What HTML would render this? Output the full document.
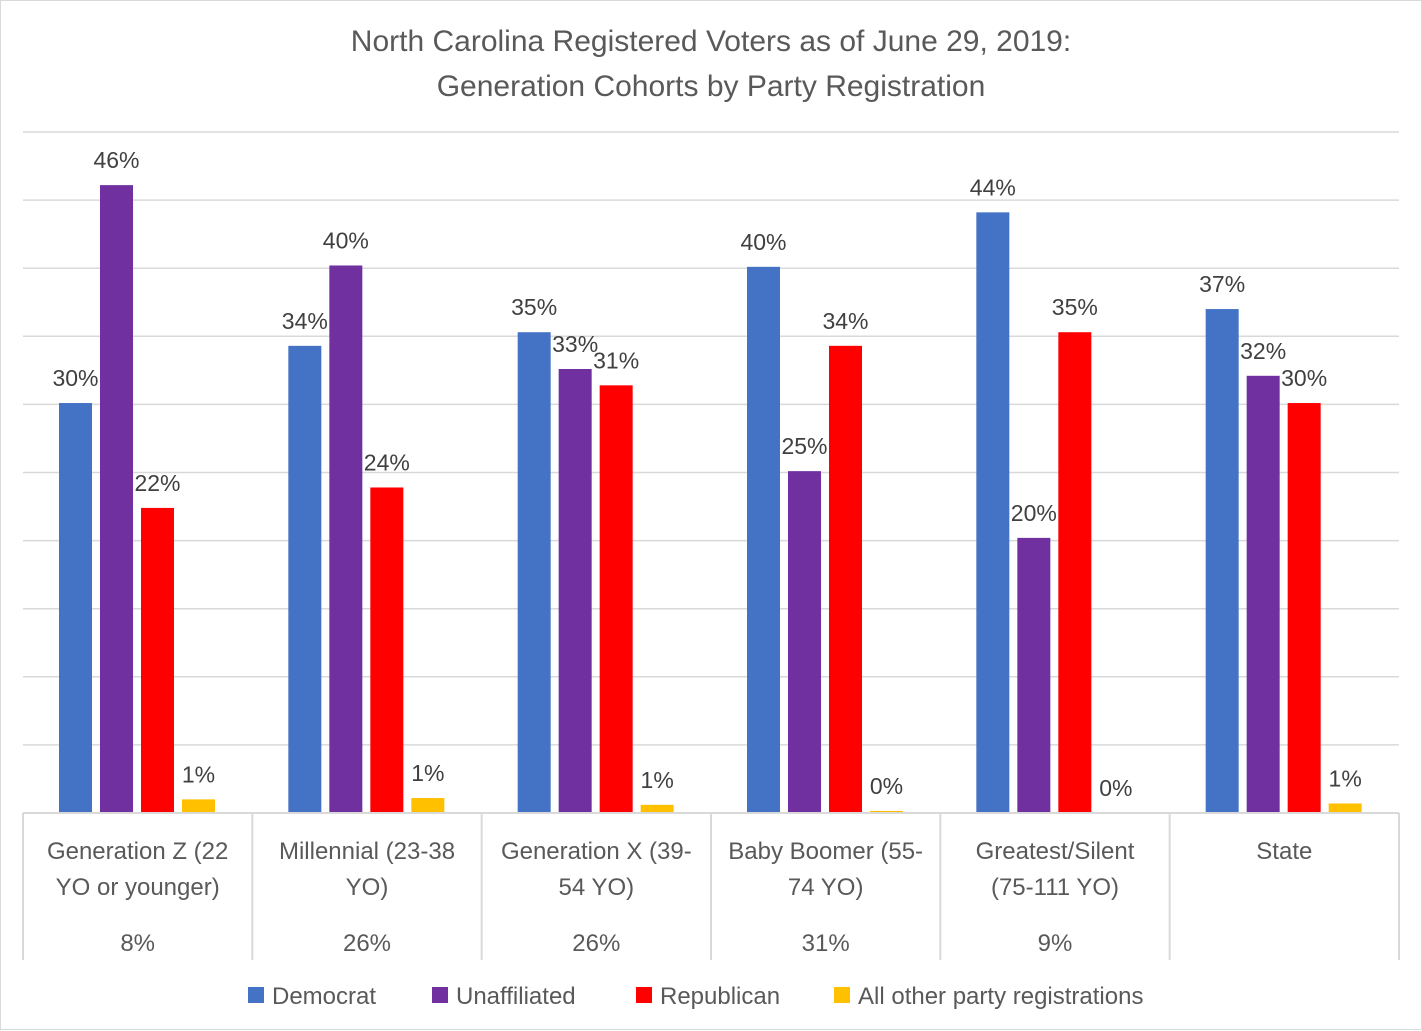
<!DOCTYPE html>
<html><head><meta charset="utf-8"><style>
body{margin:0;background:#fff}
svg{display:block;font-family:"Liberation Sans",sans-serif}
</style></head><body>
<svg id="c" width="1422" height="1031" viewBox="0 0 1422 1031">
<rect x="0.5" y="0.5" width="1421" height="1029" fill="#fff" stroke="#d9d9d9"/>
<text x="711" y="51" text-anchor="middle" font-size="30" fill="#595959">North Carolina Registered Voters as of June 29, 2019:</text>
<text x="711" y="96" text-anchor="middle" font-size="30" fill="#595959">Generation Cohorts by Party Registration</text>
<g id="grid"></g><g id="bars"></g><g id="axis"></g><g id="legend"></g>
</svg>
<script>
const categories1=["Generation Z (22","Millennial (23-38","Generation X (39-","Baby Boomer (55-","Greatest/Silent","State"];
const categories2=["YO or younger)","YO)","54 YO)","74 YO)","(75-111 YO)",""];
const shares=["8%","26%","26%","31%","9%",""];
const seriesNames=["Democrat","Unaffiliated","Republican","All other party registrations"];
const democrat=[30.1,34.3,35.3,40.1,44.1,37.0];
const unaffiliated=[46.1,40.2,32.6,25.1,20.2,32.1];
const republican=[22.4,23.9,31.4,34.3,35.3,30.1];
const other=[1.0,1.1,0.6,0.15,0,0.7];
const colors=["#4472c4","#7030a0","#ff0000","#ffc000"];
const NS="http://www.w3.org/2000/svg";
const x0=23,x1=1399,yb=813,yt=132,maxV=50;
const gw=(x1-x0)/categories1.length;
const y=v=>yb-(v/maxV)*(yb-yt);
function mk(p,t,a){const e=document.createElementNS(NS,t);for(const k in a)e.setAttribute(k,a[k]);p.appendChild(e);return e;}
const grid=document.getElementById('grid'),bars=document.getElementById('bars'),axis=document.getElementById('axis'),leg=document.getElementById('legend');
for(let v=5;v<=50;v+=5){
 const l=mk(grid,'line',{x1:x0,x2:x1,y1:y(v),y2:y(v),stroke:'#d9d9d9','stroke-width':1.5});
 
 
}
const series=[democrat,unaffiliated,republican,other];
series.forEach((s,si)=>{
 s.forEach((v,ci)=>{
  const bx=x0+ci*gw+36+si*41;
  const r=mk(bars,'rect',{x:bx,y:y(v),width:33,height:yb-y(v),fill:colors[si]});
  
  
  const t=mk(bars,'text',{x:bx+16.5,y:y(v)-17,'text-anchor':'middle','font-size':23,fill:'#404040'});
  t.textContent=Math.round(v)+'%';
  
  
 });
});
const bl=mk(axis,'line',{x1:x0,x2:x1,y1:yb,y2:yb,stroke:'#d9d9d9','stroke-width':2});


for(let i=0;i<=categories1.length;i++){
 const l=mk(axis,'line',{x1:x0+i*gw,x2:x0+i*gw,y1:yb,y2:960,stroke:'#d9d9d9','stroke-width':2});
 
 
}
categories1.forEach((c,i)=>{
 const cx=x0+i*gw+gw/2;
 [[c,859],[categories2[i],895],[shares[i],951]].forEach(([txt,yy],k)=>{
  const t=mk(axis,'text',{x:cx,y:yy,'text-anchor':'middle','font-size':24,fill:'#595959'});
  t.textContent=txt;
  
  
 });
});
const lx=[248,432,636,834];
seriesNames.forEach((n,i)=>{
 const r=mk(leg,'rect',{x:lx[i],y:987,width:16,height:16,fill:colors[i]});
 
 
 const t=mk(leg,'text',{x:lx[i]+24,y:1004,'font-size':24,fill:'#595959'});
 t.textContent=n;
 
 
});
</script>
</body></html>
